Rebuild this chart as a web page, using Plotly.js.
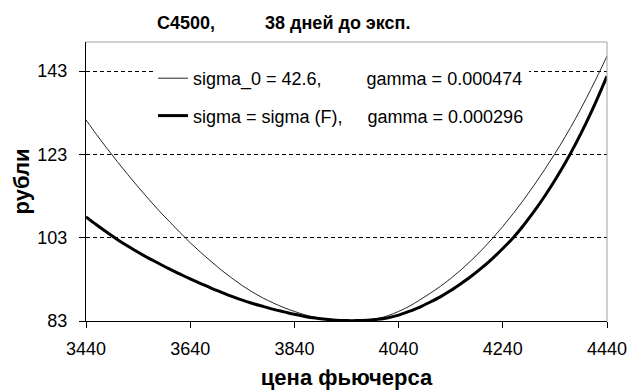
<!DOCTYPE html>
<html>
<head>
<meta charset="utf-8">
<script src="https://cdn.plot.ly/plotly-3.0.1.min.js"></script>
<style>html,body{margin:0;padding:0;background:#fff;}#chart{width:629px;height:392px;}</style>
</head>
<body>
<div id="chart"></div>
<script>
// Futures price (x) grid
const futuresPrice = [3440,3460,3480,3500,3520,3540,3560,3580,3600,3620,3640,3660,3680,3700,3720,3740,3760,3780,3800,3820,3840,3860,3880,3900,3920,3940,3960,3980,4000,4020,4040,4060,4080,4100,4120,4140,4160,4180,4200,4220,4240,4260,4280,4300,4320,4340,4360,4380,4400,4420,4440];
// sigma_0 = 42.6 (thin line)
const thinValues = [131.3,127.8,124.5,121.3,118.2,115.2,112.3,109.5,106.9,104.3,101.8,99.5,97.3,95.2,93.3,91.5,89.9,88.5,87.3,86.2,85.3,84.5,83.9,83.5,83.2,83.1,83.1,83.3,83.6,84.3,85.3,86.5,88.0,89.6,91.3,93.2,95.3,97.6,100.1,102.8,105.7,108.8,112.1,115.6,119.3,123.2,127.3,131.7,136.4,141.4,146.6];
// sigma = sigma(F) (thick line)
const thickValues = [108.0,106.1,104.3,102.6,101.0,99.5,98.1,96.8,95.5,94.3,93.1,92.0,90.9,89.9,88.9,88.0,87.2,86.5,85.8,85.2,84.6,84.1,83.7,83.4,83.2,83.1,83.1,83.2,83.4,83.8,84.4,85.3,86.3,87.5,88.8,90.3,92.0,93.8,95.8,98.0,100.4,103.0,106.0,109.3,112.9,116.8,121.0,125.6,130.6,136.0,141.8];

const seriesNames = ["sigma_0 = 42.6,", "sigma = sigma (F),"];
const gammaLabels = ["gamma = 0.000474", "gamma = 0.000296"];
const yTicks = [83, 103, 123, 143];
const xTicks = [3440, 3640, 3840, 4040, 4240, 4440];
const titleLeft = "C4500,";
const titleRight = "38 дней до эксп.";
const xTitle = "цена фьючерса";
const yTitle = "рубли";

const NB = "\u00a0";
const pad = (n) => NB.repeat(n);

const FONT = "Liberation Sans, Arial, sans-serif";

const traces = [
  {
    x: futuresPrice, y: thinValues, type: "scatter", mode: "lines",
    name: seriesNames[0] + pad(9) + gammaLabels[0],
    line: {color: "#262626", width: 1, shape: "spline"},
    legendgroup: "a"
  },
  {
    x: futuresPrice, y: thickValues, type: "scatter", mode: "lines",
    name: seriesNames[1] + pad(5) + gammaLabels[1],
    line: {color: "#000000", width: 3, shape: "spline"},
    legendgroup: "b"
  }
];

const layout = {
  width: 629, height: 392,
  paper_bgcolor: "#ffffff", plot_bgcolor: "#ffffff",
  margin: {l: 86, r: 22, t: 42, b: 71, pad: 0},
  font: {family: FONT, color: "#000", size: 18},
  title: {
    text: "<b>" + titleLeft + pad(10) + titleRight + "</b>",
    font: {family: FONT, size: 18, color: "#000"},
    x: 157 / 629, xanchor: "left", xref: "container",
    y: 1 - 23 / 392, yanchor: "middle", yref: "container"
  },
  xaxis: {
    range: [3440, 4440],
    tickmode: "array", tickvals: xTicks, ticktext: xTicks.map(String),
    ticks: "outside", ticklen: 6, tickcolor: "#000", tickwidth: 1,
    showline: true, linecolor: "#000", linewidth: 1,
    showgrid: false, zeroline: false,
    tickfont: {family: FONT, size: 18, color: "#000"},
    ticklabelstandoff: 5,
    title: {text: "<b>" + xTitle + "</b>", font: {family: FONT, size: 22, color: "#000"}, standoff: 12}
  },
  yaxis: {
    range: [83, 150],
    tickmode: "array", tickvals: yTicks, ticktext: yTicks.map(String),
    ticks: "outside", ticklen: 6, tickcolor: "#000", tickwidth: 1,
    showline: true, linecolor: "#000", linewidth: 1,
    showgrid: true, gridcolor: "#000", gridwidth: 1, griddash: "4px,3px",
    zeroline: false,
    tickfont: {family: FONT, size: 18, color: "#000"},
    ticklabelstandoff: 8,
    title: {text: "<b>" + yTitle + "</b>", font: {family: FONT, size: 22, color: "#000"}, standoff: 1}
  },
  showlegend: true,
  legend: {
    x: (153 - 86) / 521, y: 1 - (60 - 42) / 279,
    xanchor: "left", yanchor: "top",
    bgcolor: "#ffffff", borderwidth: 0,
    font: {family: FONT, size: 18, color: "#000"},
    traceorder: "grouped", tracegroupgap: 11,
    itemwidth: 30
  },
  shapes: [
    {type: "line", xref: "paper", yref: "paper", x0: 0, x1: 1, y0: 1, y1: 1, line: {color: "#a0a0a0", width: 1}},
    {type: "line", xref: "paper", yref: "paper", x0: 1, x1: 1, y0: 0, y1: 1, line: {color: "#a0a0a0", width: 1}}
  ]
};

Plotly.newPlot("chart", traces, layout, {displayModeBar: false, staticPlot: true});
</script>
</body>
</html>
